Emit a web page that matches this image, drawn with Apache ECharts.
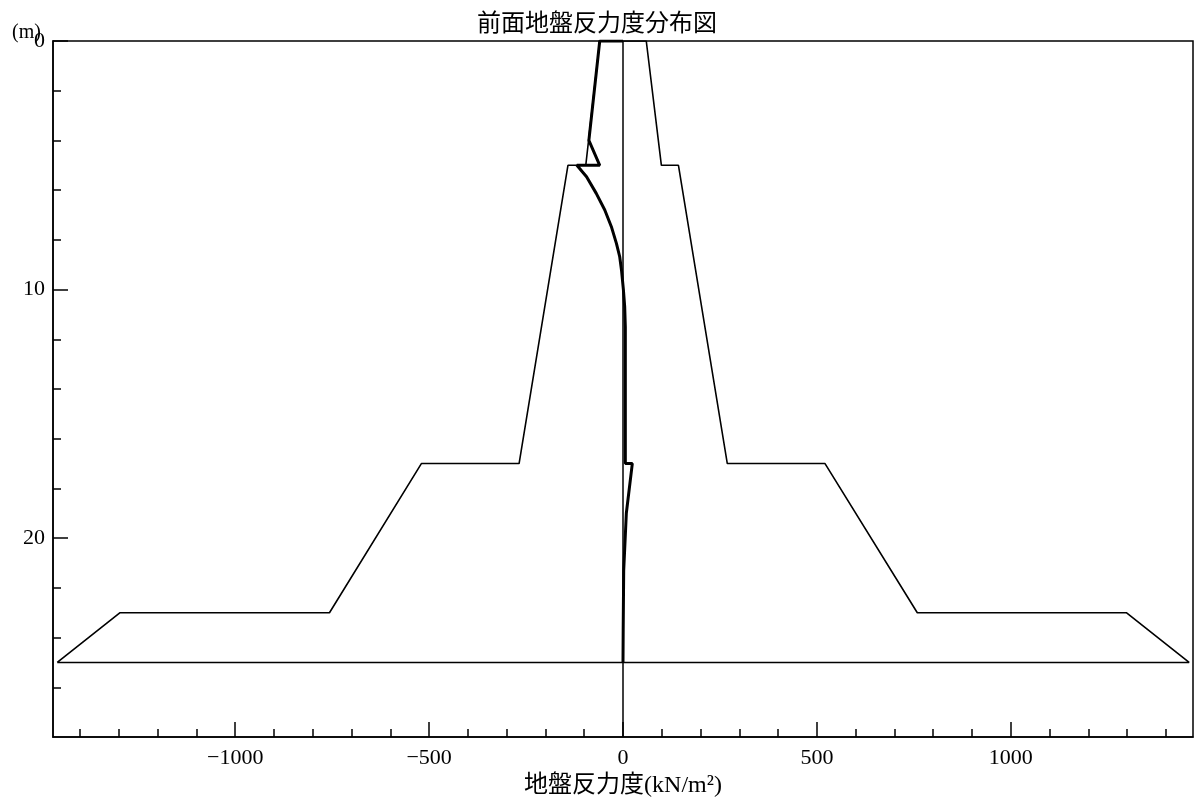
<!DOCTYPE html>
<html>
<head>
<meta charset="utf-8">
<script src="https://cdn.jsdelivr.net/npm/echarts@6/dist/echarts.min.js"></script>
<style>
  html, body { margin: 0; padding: 0; background: #fff; }
  #chart { width: 1194px; height: 799px; }
</style>
</head>
<body>
<div id="chart"></div>
<script>
// 受働側の上限（左右）と深さ
const envDepth = [0, 5, 5, 17, 17, 23, 23, 25];
const envRight = [60, 99, 143, 269, 521, 759, 1298, 1460];
const envLeft = [-60, -96, -142, -268, -520, -757, -1297, -1459];

// 前面地盤反力度（太線）
const reactDepth = [0, 0, 4, 5, 5, 5.46, 6.13, 6.8, 7.47, 8.14, 8.68, 9.2, 9.6, 10.0, 10.7, 11.5, 17, 17, 19.0, 21.3, 23.7, 25];
const reactValue = [0, -60, -88, -60, -119, -94, -69, -47, -30, -17, -8.5, -4, -1.5, 1, 4.4, 6, 6, 24, 8.6, 1.8, 0.5, 0];

// 目盛
const xMajorTicks = [-1000, -500, 0, 500, 1000];
const xMinorTicks = [-1400, -1300, -1200, -1100, -1000, -900, -800, -700, -600, -500, -400, -300, -200, -100, 0,
  100, 200, 300, 400, 500, 600, 700, 800, 900, 1000, 1100, 1200, 1300, 1400];
const yMajorTicks = [0, 10, 20];
const yMinorTicks = [2, 4, 6, 8, 12, 14, 16, 18, 22, 24, 26];

const serif = '"Liberation Serif", "DejaVu Serif", "Noto Sans CJK JP", serif';

// 左側を上から、右側を下へ、最後に底辺で閉じる
const envelope = [];
for (let i = envDepth.length - 1; i >= 0; i--) envelope.push([envLeft[i], envDepth[i]]);
for (let i = 0; i < envDepth.length; i++) envelope.push([envRight[i], envDepth[i]]);
envelope.push([envLeft[envLeft.length - 1], envDepth[envDepth.length - 1]]);

const reaction = reactDepth.map((d, i) => [reactValue[i], d]);

const tickStyle = { color: '#000', width: 1.5 };

const chart = echarts.init(document.getElementById('chart'));
chart.setOption({
  animation: false,
  backgroundColor: '#fff',
  title: [
    {
      text: '前面地盤反力度分布図',
      left: 'center',
      top: 5,
      textStyle: { fontFamily: '"Noto Sans CJK JP", sans-serif', fontWeight: 'normal', fontSize: 24, color: '#000' },
    },
    {
      text: '(m)',
      left: 7,
      top: 18,
      textStyle: { fontFamily: serif, fontWeight: 'normal', fontSize: 20, color: '#000' },
    },
  ],
  grid: {
    left: 53, right: 1, top: 41, bottom: 62,
    outerBoundsMode: 'none',
    show: true, borderColor: '#000', borderWidth: 1.5,
  },
  xAxis: [
    {
      type: 'value', min: -1470, max: 1470, position: 'bottom',
      name: '地盤反力度(kN/m²)', nameLocation: 'middle', nameGap: 34,
      nameTextStyle: { fontFamily: serif, fontSize: 24, color: '#000' },
      splitLine: { show: false },
      axisLine: { show: true, onZero: false, lineStyle: { color: '#000', width: 1.5 } },
      axisTick: { show: true, inside: true, length: 15, customValues: xMajorTicks, lineStyle: tickStyle },
      axisLabel: {
        customValues: xMajorTicks, margin: 10,
        fontFamily: serif, fontSize: 22, color: '#000',
        formatter: (v) => String(v).replace('-', '−'),
      },
    },
    {
      type: 'value', min: -1470, max: 1470, position: 'bottom',
      splitLine: { show: false },
      axisLine: { show: false, onZero: false },
      axisTick: { show: true, inside: true, length: 8, customValues: xMinorTicks, lineStyle: tickStyle },
      axisLabel: { show: false },
    },
  ],
  yAxis: [
    {
      type: 'value', min: 0, max: 28, inverse: true, position: 'left',
      splitLine: { show: false },
      axisLine: { show: true, onZero: false, lineStyle: { color: '#000', width: 1.5 } },
      axisTick: { show: true, inside: true, length: 15, customValues: yMajorTicks, lineStyle: tickStyle },
      axisLabel: { customValues: yMajorTicks, margin: 8, fontFamily: serif, fontSize: 22, color: '#000' },
    },
    {
      type: 'value', min: 0, max: 28, inverse: true, position: 'left',
      splitLine: { show: false },
      axisLine: { show: false, onZero: false },
      axisTick: { show: true, inside: true, length: 8, customValues: yMinorTicks, lineStyle: tickStyle },
      axisLabel: { show: false },
    },
  ],
  series: [
    {
      type: 'line', name: 'zero', data: [[0, 0], [0, 28]],
      showSymbol: false, silent: true,
      lineStyle: { color: '#000', width: 1.5 },
    },
    {
      type: 'line', name: 'envelope', data: envelope,
      showSymbol: false, silent: true,
      lineStyle: { color: '#000', width: 1.6 },
    },
    {
      type: 'line', name: 'reaction', data: reaction,
      showSymbol: false, silent: true,
      lineStyle: { color: '#000', width: 3 },
    },
  ],
});
</script>
</body>
</html>
